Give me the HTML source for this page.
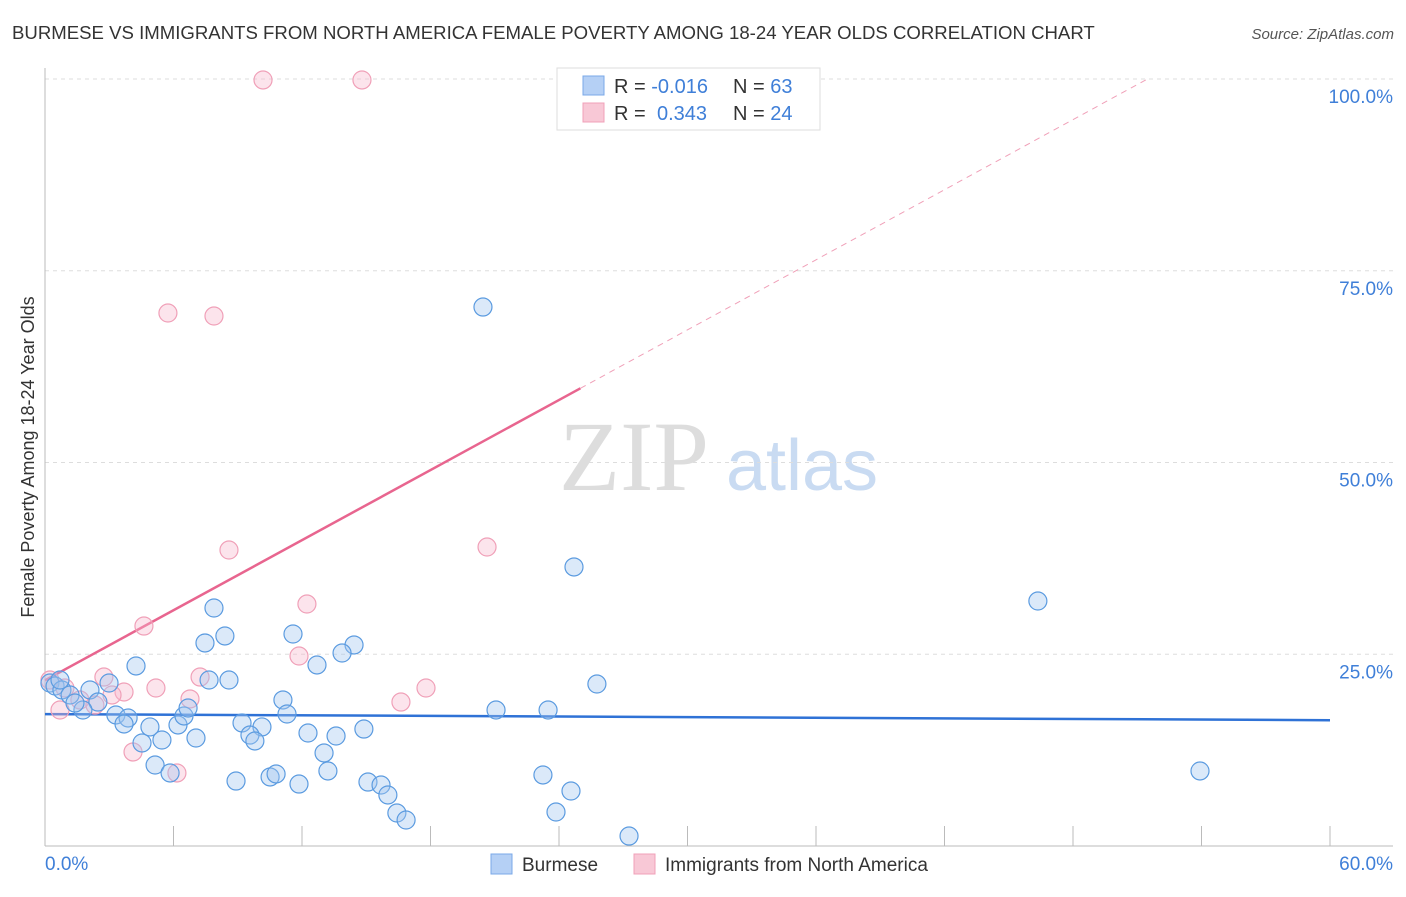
<!DOCTYPE html>
<html><head><meta charset="utf-8"><style>
body{margin:0;background:#fff;font-family:"Liberation Sans",sans-serif;}
svg text{font-family:"Liberation Sans",sans-serif;}
</style></head><body>
<svg width="1406" height="892">
<text x="12" y="39" font-size="18.6" fill="#333">BURMESE VS IMMIGRANTS FROM NORTH AMERICA FEMALE POVERTY AMONG 18-24 YEAR OLDS CORRELATION CHART</text>
<text x="1394" y="39" font-size="15" fill="#555" font-style="italic" text-anchor="end">Source: ZipAtlas.com</text>
<g>
<text x="634" y="490" font-size="100" fill="#ddd" style="font-family:'Liberation Serif',serif" text-anchor="middle">ZIP</text>
<text x="802" y="490" font-size="72" fill="#c9dbf2" text-anchor="middle">atlas</text>
</g>
<g id="grid"></g>
<g id="axes"></g>
<g id="lines"></g>
<g id="pts"></g>
<text transform="translate(34,457) rotate(-90)" font-size="18" fill="#333" text-anchor="middle">Female Poverty Among 18-24 Year Olds</text>
<text x="45" y="870" font-size="19" fill="#3f7fd8">0.0%</text>
<text x="1393" y="870" font-size="19" fill="#3f7fd8" text-anchor="end">60.0%</text>
<g>
<rect x="557" y="68" width="263" height="62" fill="#fff" stroke="#ddd"/>
<rect x="583" y="76" width="21" height="19" fill="#b5d0f5" stroke="#7aa8e8"/>
<rect x="583" y="103" width="21" height="19" fill="#f8c8d6" stroke="#f0a0b8"/>
<text x="614" y="93" font-size="20" fill="#333">R = <tspan fill="#3f7fd8">-0.016</tspan><tspan x="733">N = </tspan><tspan fill="#3f7fd8">63</tspan></text>
<text x="614" y="120" font-size="20" fill="#333">R = <tspan x="657" fill="#3f7fd8">0.343</tspan><tspan x="733">N = </tspan><tspan fill="#3f7fd8">24</tspan></text>
</g>
<g>
<rect x="491" y="854" width="21" height="20" fill="#b5d0f5" stroke="#7aa8e8"/>
<text x="522" y="871" font-size="19" fill="#333">Burmese</text>
<rect x="634" y="854" width="21" height="20" fill="#f8c8d6" stroke="#f0a0b8"/>
<text x="665" y="871" font-size="19" fill="#333">Immigrants from North America</text>
</g>
</svg>
<script>
const yTicks=[25,50,75,100];
const yTickLabels=["25.0%","50.0%","75.0%","100.0%"];
const xTicks=[0,6,12,18,24,30,36,42,48,54,60];
const burmeseX=[20.45,24.70,46.36,53.93,25.77,21.06,23.49,23.25,24.56,23.86,27.27,7.89,8.40,7.47,11.58,14.43,13.87,12.70,4.25,7.66,8.59,2.99,2.10,0.23,0.47,0.79,1.17,2.47,1.77,1.40,3.31,3.88,3.69,4.90,6.21,6.49,6.68,4.53,5.46,7.05,9.20,10.13,9.57,9.80,11.11,11.30,12.28,13.59,14.89,13.03,13.21,5.14,5.84,8.92,10.51,10.79,11.86,15.08,15.69,16.01,16.43,16.86,0.70];
const burmeseY=[70.27,36.38,31.94,9.78,21.12,17.73,17.73,9.26,7.17,4.43,1.30,31.03,27.38,26.47,27.64,26.21,25.16,23.60,23.47,21.64,21.64,21.25,20.34,21.25,20.86,20.34,19.69,18.77,17.73,18.64,17.08,16.69,15.91,15.52,15.78,16.95,17.99,13.43,13.82,14.08,16.04,15.52,14.47,13.69,19.04,17.21,14.73,14.34,15.25,12.13,9.78,10.56,9.52,8.47,9.00,9.39,8.08,8.34,7.95,6.65,4.30,3.39,21.64];
const immX=[10.18,14.80,5.74,7.89,8.59,20.64,12.23,4.62,11.86,7.24,2.75,3.69,5.18,6.77,17.79,16.62,3.13,0.70,4.11,6.16,0.23,0.93,1.63,2.33];
const immY=[99.87,99.87,69.49,69.10,38.59,38.98,31.55,28.68,24.77,22.03,22.03,20.08,20.60,19.17,20.60,18.77,19.69,17.73,12.26,9.52,21.64,20.60,19.04,18.38];
const burmeseFit=[17.2,-0.0133];
const immFit=[21.6,1.523];
const NS="http://www.w3.org/2000/svg";
const sx=v=>45+v/60*1285, sy=v=>846-v/100*767;
function mk(tag,attrs,parent){const e=document.createElementNS(NS,tag);for(const k in attrs)e.setAttribute(k,attrs[k]);document.getElementById(parent).appendChild(e);return e;}
yTicks.forEach((t,i)=>{
 const l=mk('line',{x1:45,x2:1393,y1:sy(t),y2:sy(t),stroke:'#ddd','stroke-dasharray':'4,4'},'grid');
 
 
 const tx=mk('text',{x:1393,y:sy(t)+24,'font-size':19,fill:'#3f7fd8','text-anchor':'end'},'grid');
 tx.textContent=yTickLabels[i];
 
 
});
const ya=mk('line',{x1:45,x2:45,y1:68,y2:846,stroke:'#bbb'},'axes');


const xa=mk('line',{x1:45,x2:1393,y1:846,y2:846,stroke:'#bbb'},'axes');


xTicks.forEach(t=>{
 const l=mk('line',{x1:sx(t),x2:sx(t),y1:826,y2:846,stroke:'#bbb'},'axes');
 
 
});
const bl=mk('line',{x1:sx(0),y1:sy(burmeseFit[0]),x2:sx(60),y2:sy(burmeseFit[0]+burmeseFit[1]*60),stroke:'#2f72d6','stroke-width':2.5},'lines');


const xs=25.0, xe=(100-immFit[0])/immFit[1];
const pl=mk('line',{x1:sx(0),y1:sy(immFit[0]),x2:sx(xs),y2:sy(immFit[0]+immFit[1]*xs),stroke:'#e8658f','stroke-width':2.5},'lines');


const pd=mk('line',{x1:sx(xs),y1:sy(immFit[0]+immFit[1]*xs),x2:sx(xe),y2:sy(100),stroke:'#f0a0b8','stroke-width':1,'stroke-dasharray':'6,5'},'lines');


immX.forEach((x,i)=>{
 const c=mk('circle',{cx:sx(x),cy:sy(immY[i]),r:9,fill:'rgba(248,185,205,0.38)',stroke:'#f0a0b8','stroke-width':1.2},'pts');
 
 
});
burmeseX.forEach((x,i)=>{
 const c=mk('circle',{cx:sx(x),cy:sy(burmeseY[i]),r:9,fill:'rgba(160,196,240,0.38)',stroke:'#5b9be0','stroke-width':1.2},'pts');
 
 
});
</script>
</body></html>
